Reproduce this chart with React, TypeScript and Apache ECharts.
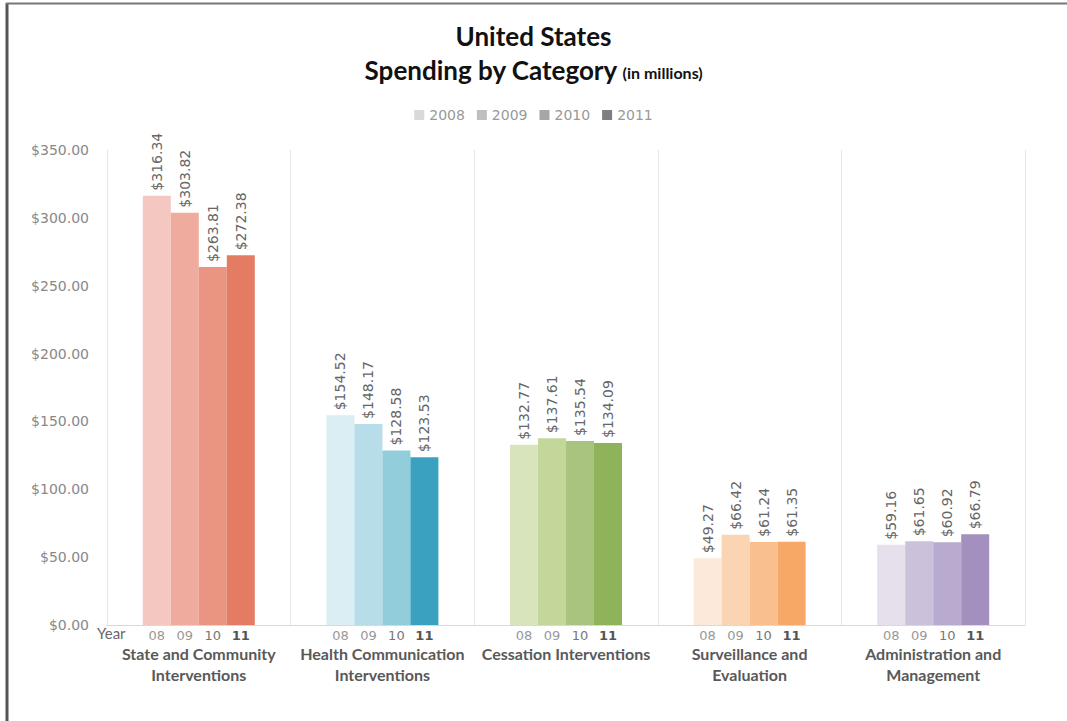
import React, { useEffect, useRef } from "react";
import * as echarts from "echarts";

const categories = [
  "State and Community\nInterventions",
  "Health Communication\nInterventions",
  "Cessation Interventions",
  "Surveillance and\nEvaluation",
  "Administration and\nManagement",
];
const years = ["2008", "2009", "2010", "2011"];
const yearTicks = ["08", "09", "10", "11"];
const values2008 = [316.34, 154.52, 132.77, 49.27, 59.16];
const values2009 = [303.82, 148.17, 137.61, 66.42, 61.65];
const values2010 = [263.81, 128.58, 135.54, 61.24, 60.92];
const values2011 = [272.38, 123.53, 134.09, 61.35, 66.79];
const yTicks = [0, 50, 100, 150, 200, 250, 300, 350];

const legendColors = ["#d9d9d9", "#bfbfbf", "#a6a6a6", "#7f7f7f"];
const categoryColors = [
  ["#f4c7c0", "#efab9d", "#ea9582", "#e47c64"],
  ["#daeef3", "#b7dde8", "#92cddc", "#3aa1c0"],
  ["#d8e4bc", "#c4d79b", "#a9c47f", "#8fb35a"],
  ["#fde9d9", "#fbd4b4", "#fabf8f", "#f7a766"],
  ["#e5e0ec", "#ccc1da", "#b9abd0", "#a490be"],
];

export default function App() {
  const ref = useRef<HTMLDivElement>(null);
  useEffect(() => {
    if (!ref.current) return;
    const chart = echarts.init(ref.current, null, { renderer: "svg" });
    const allValues = [values2008, values2009, values2010, values2011];
    const series = years.map((yr, si) => ({
      name: yr,
      type: "bar",
      barWidth: 28,
      barGap: "0%",
      itemStyle: { color: legendColors[si] },
      data: allValues[si].map((v, ci) => ({
        value: v,
        itemStyle: { color: categoryColors[ci][si] },
      })),
      label: {
        show: true,
        position: "top",
        rotate: 90,
        align: "left",
        verticalAlign: "middle",
        distance: 5,
        color: "#666",
        fontSize: 14,
        fontFamily: "DejaVu Sans",
        formatter: (p: any) => "$" + Number(p.value).toFixed(2),
      },
    }));
    const yearStyle = (color: string, bold: boolean) => ({
      width: 28,
      align: "center",
      fontSize: 13,
      color,
      fontWeight: bold ? "bold" : "normal",
      fontFamily: "DejaVu Sans",
      lineHeight: 16,
    });
    chart.setOption({
      animation: false,
      backgroundColor: "#fff",
      title: {
        left: "center",
        top: 14,
        text: "{a|United States}\n{a|Spending by Category} {b|(in millions)}",
        textStyle: {
          rich: {
            a: {
              fontFamily: "Lato",
              fontWeight: "bold",
              fontSize: 26,
              color: "#111",
              lineHeight: 34,
            },
            b: {
              fontFamily: "Lato",
              fontWeight: "bold",
              fontSize: 16,
              color: "#111",
              lineHeight: 34,
              padding: [4, 0, 0, 0],
            },
          },
        },
      },
      legend: {
        top: 103,
        left: "center",
        icon: "rect",
        itemWidth: 10,
        itemHeight: 10,
        itemGap: 12,
        textStyle: { color: "#999", fontFamily: "DejaVu Sans", fontSize: 14 },
        data: years,
      },
      grid: { left: 107, right: 42, top: 150, bottom: 96, containLabel: false },
      xAxis: {
        type: "category",
        data: categories,
        axisTick: { show: false },
        axisLine: { show: true, lineStyle: { color: "#d9d9d9", width: 1 } },
        splitLine: { show: true, lineStyle: { color: "#e6e6e6", width: 1 } },
        axisLabel: {
          interval: 0,
          margin: 2,
          formatter: (value: string) => {
            const lines = value.split("\n");
            const ys = yearTicks.map((t, i) => `{y${i}|${t}}`).join("");
            return ys + "\n" + lines.map((l) => `{c|${l}}`).join("\n");
          },
          rich: {
            y0: yearStyle("#999", false),
            y1: yearStyle("#999", false),
            y2: yearStyle("#777", false),
            y3: yearStyle("#555", true),
            c: {
              align: "center",
              fontSize: 16,
              fontWeight: "bold",
              color: "#595959",
              fontFamily: "Lato",
              lineHeight: 21,
            },
          },
        },
      },
      yAxis: {
        type: "value",
        min: yTicks[0],
        max: yTicks[yTicks.length - 1],
        interval: 50,
        splitLine: { show: false },
        axisLine: { show: false },
        axisTick: { show: false },
        axisLabel: {
          margin: 18,
          color: "#888",
          fontSize: 14,
          fontFamily: "DejaVu Sans",
          formatter: (v: number) => "$" + v.toFixed(2),
        },
      },
      graphic: [
        {
          type: "line",
          shape: { x1: 7, y1: 3, x2: 7, y2: 721 },
          style: { stroke: "#555", lineWidth: 3 },
        },
        {
          type: "line",
          shape: { x1: 6, y1: 3.5, x2: 1067, y2: 3.5 },
          style: { stroke: "#777", lineWidth: 2 },
        },
        {
          type: "text",
          left: 97,
          top: 625,
          style: { text: "Year", fill: "#666", font: "15px Lato" },
        },
      ],
      series,
    });
    return () => chart.dispose();
  }, []);
  return (
    <div
      ref={ref}
      style={{ position: "fixed", left: 0, top: 0, width: 1067, height: 721 }}
    />
  );
}
